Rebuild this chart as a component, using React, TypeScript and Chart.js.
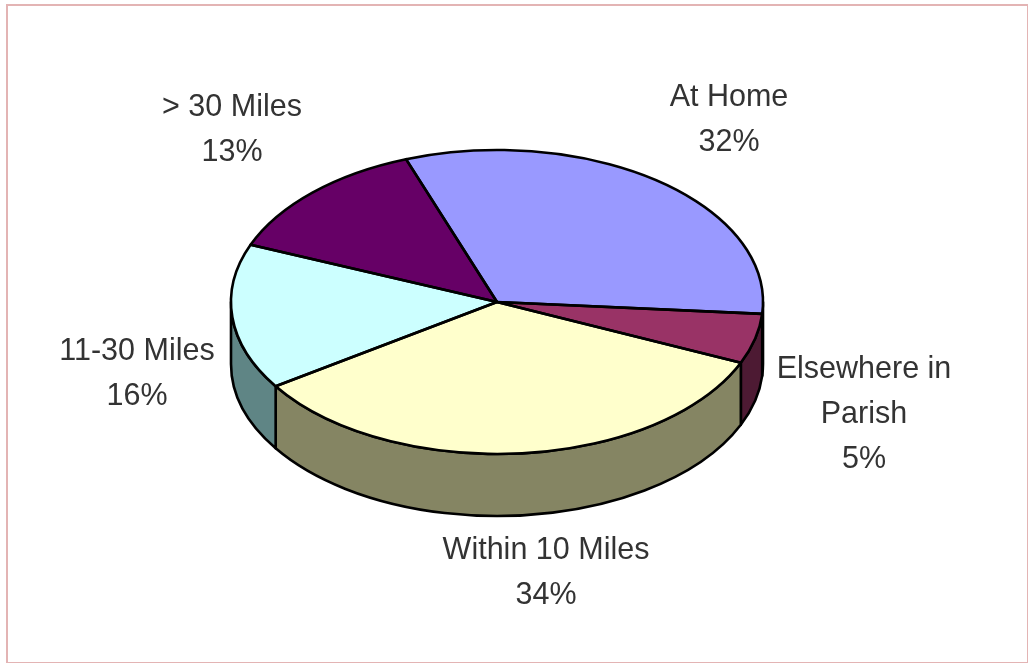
import React, { useEffect, useRef } from "react";
import { Chart, registerables } from "chart.js";

Chart.register(...registerables);

const categories = ["At Home", "Elsewhere in Parish", "Within 10 Miles", "11-30 Miles", "> 30 Miles"];
const labelLines = [["At Home"], ["Elsewhere in", "Parish"], ["Within 10 Miles"], ["11-30 Miles"], ["> 30 Miles"]];
const shares = [31.8, 5.3, 34.1, 15.5, 13.3];
const topColors = ["#9999ff", "#993366", "#ffffcc", "#ccffff", "#660066"];
const wallColors = ["#4d4d80", "#4d1a33", "#858563", "#5f8585", "#330033"];
// label block centres, relative to the pie centre
const labelOffsets = [[232, -182], [367, 113], [49, 271], [-360, 72], [-265, -172]];

const SQUASH = 152 / 266;
const DEPTH = 62;
const LINE = 2.6;
const LINE_HEIGHT = 45;

const pie3d = {
  id: "pie3d",
  beforeDatasetsDraw(chart: any) {
    const { ctx } = chart;
    const arcs = chart.getDatasetMeta(0).data;
    const { x: cx, y: cy, outerRadius: r } = arcs[0].getProps(["x", "y", "outerRadius"], true);
    const ry = r * SQUASH;
    ctx.save();
    ctx.lineWidth = LINE;
    ctx.strokeStyle = "#000";
    ctx.lineJoin = "round";
    arcs.forEach((arc: any, i: number) => {
      const from = Math.max(arc.startAngle, 0);
      const to = Math.min(arc.endAngle, Math.PI);
      if (to <= from) return;
      ctx.beginPath();
      ctx.ellipse(cx, cy, r, ry, 0, from, to, false);
      ctx.ellipse(cx, cy + DEPTH, r, ry, 0, to, from, true);
      ctx.closePath();
      ctx.fillStyle = wallColors[i];
      ctx.fill();
      ctx.stroke();
    });
    ctx.restore();
    ctx.save();
    ctx.translate(cx, cy);
    ctx.scale(1, SQUASH);
    ctx.translate(-cx, -cy);
  },
  afterDatasetsDraw(chart: any) {
    const { ctx } = chart;
    ctx.restore();
    const arcs = chart.getDatasetMeta(0).data;
    const { x: cx, y: cy, outerRadius: r } = arcs[0].getProps(["x", "y", "outerRadius"], true);
    const ry = r * SQUASH;
    ctx.save();
    ctx.lineWidth = LINE;
    ctx.strokeStyle = "#000";
    ctx.lineJoin = "round";
    arcs.forEach((arc: any) => {
      ctx.beginPath();
      ctx.moveTo(cx, cy);
      ctx.ellipse(cx, cy, r, ry, 0, arc.startAngle, arc.endAngle, false);
      ctx.closePath();
      ctx.stroke();
    });
    ctx.font = '30.5px "Liberation Sans", Arial, sans-serif';
    ctx.fillStyle = "#333333";
    ctx.textAlign = "center";
    ctx.textBaseline = "middle";
    categories.forEach((_, i) => {
      const lines = [...labelLines[i], `${Math.round(shares[i])}%`];
      const [dx, dy] = labelOffsets[i];
      const top = cy + dy - ((lines.length - 1) * LINE_HEIGHT) / 2;
      lines.forEach((line, j) => ctx.fillText(line, cx + dx, top + j * LINE_HEIGHT));
    });
    ctx.restore();
  },
};

export default function App() {
  const ref = useRef<HTMLCanvasElement>(null);
  useEffect(() => {
    const chart = new Chart(ref.current!, {
      type: "pie",
      data: {
        labels: categories,
        datasets: [{ data: shares, backgroundColor: topColors, borderWidth: 0, clip: false } as any],
      },
      options: {
        animation: false,
        responsive: false,
        rotation: -20,
        layout: { padding: { left: 231, right: 265, top: 36, bottom: 95 } },
        plugins: { legend: { display: false }, tooltip: { enabled: false } },
      },
      plugins: [pie3d],
    });
    return () => chart.destroy();
  }, []);
  return (
    <div style={{ position: "fixed", left: 0, top: 0, width: 1028, height: 663, background: "#fff" }}>
      <canvas ref={ref} width={1028} height={663} style={{ position: "absolute", left: 0, top: 0 }} />
      <div
        style={{
          position: "absolute",
          left: 6,
          top: 4,
          width: 1019,
          height: 656,
          borderStyle: "solid",
          borderColor: "#e3b4b4",
          borderWidth: "2px",
          pointerEvents: "none",
        }}
      />
    </div>
  );
}
